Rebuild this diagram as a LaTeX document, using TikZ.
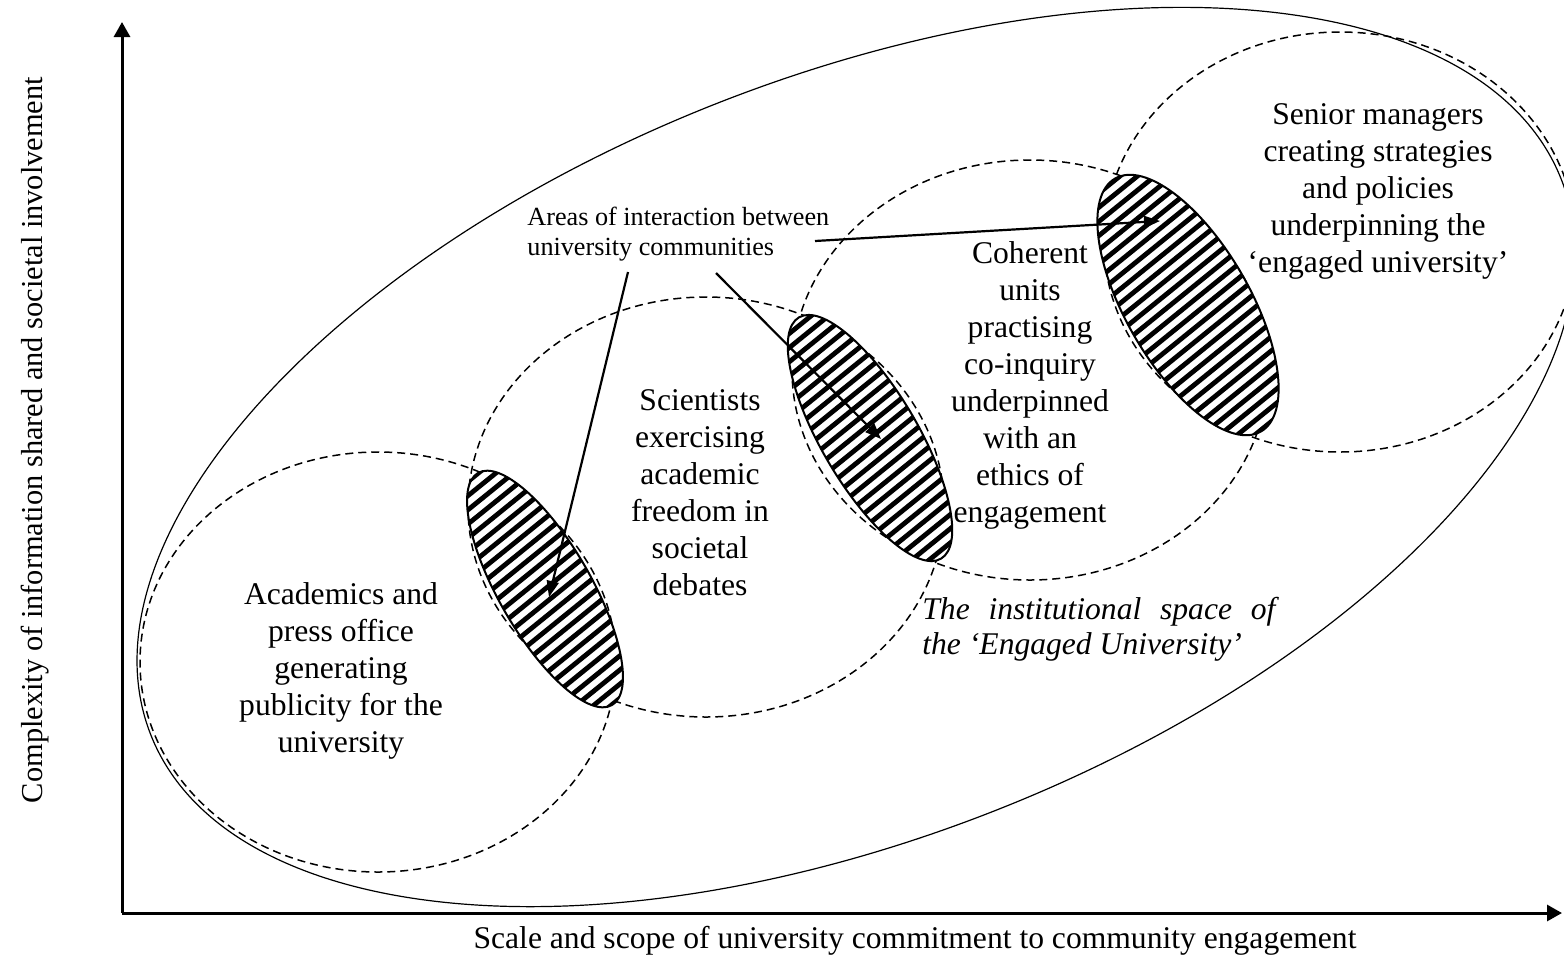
\documentclass[tikz,border=0pt]{standalone}
\usepackage{fontspec}
\setmainfont{Liberation Serif}
\usetikzlibrary{arrows.meta,calc}
\newcommand\hatchell[5]{%
  \fill[white, rotate around={#5:(#1,#2)}] (#1,#2) ellipse [x radius=#3, y radius=#4];
  \begin{scope}
    \clip[rotate around={#5:(#1,#2)}] (#1,#2) ellipse [x radius=#3, y radius=#4];
    \begin{scope}[shift={(#1,#2)}, rotate=39]
      \foreach \k in {-18,...,18} \draw[hatchline] (-220,\k*11) -- (220,\k*11);
    \end{scope}
  \end{scope}
  \draw[rim, rotate around={#5:(#1,#2)}] (#1,#2) ellipse [x radius=#3, y radius=#4];
}
\begin{document}
\begin{tikzpicture}[x=0.5pt,y=0.5pt,
  outer/.style={line width=0.6pt},
  dashedell/.style={line width=0.75pt, dash pattern=on 4pt off 2.5pt},
  axis/.style={line width=1.5pt,-{Triangle[length=7.5pt,width=8pt]}},
  pointer/.style={line width=1.1pt,-{Triangle[length=8pt,width=6pt]}},
  hatchline/.style={line width=2.4pt},
  rim/.style={line width=1pt},
  lbl/.style={font=\fontsize{15.8}{18.5}\selectfont, align=center, inner sep=0pt},
  small/.style={font=\fontsize{13.1}{15}\selectfont, align=left, inner sep=0pt},
]
\useasboundingbox (0,0) rectangle (1564,-954);

% outer institutional space
\draw[outer, rotate around={21.5:(856,-457)}] (856,-457) ellipse [x radius=758, y radius=380];

% community ellipses
\draw[dashedell] (378,-662) ellipse [x radius=238, y radius=210];
\draw[dashedell] (706,-507) ellipse [x radius=238, y radius=210];
\draw[dashedell] (1030,-370) ellipse [x radius=238, y radius=210];
\draw[dashedell] (1340,-242) ellipse [x radius=236, y radius=210];

% areas of interaction
\hatchell{545}{-589}{134}{46}{-60}
\hatchell{870}{-438}{140}{48}{-59.5}
\hatchell{1188}{-305}{146}{62}{-60}

% texts
\node[lbl] (acad) at (341,-671) {Academics and\\press office\\generating\\publicity for the\\university};
\node[lbl] (sci) at (700,-493) {Scientists\\exercising\\academic\\freedom in\\societal\\debates};
\node[lbl] (coh) at (1030,-385) {Coherent\\units\\practising\\co-inquiry\\underpinned\\with an\\ethics of\\engagement};
\node[lbl] (sen) at (1378,-191) {Senior managers\\creating strategies\\and policies\\underpinning the\\‘engaged university’};
\node[small, anchor=north west] (areas) at (527,-207) {Areas of interaction between\\university communities};
\node[lbl, align=left, anchor=north west, font=\fontsize{15.8}{17.5}\selectfont\itshape] (inst) at (922,-597) {\makebox[176.5pt][s]{The institutional space of}\\the ‘Engaged University’};

% axes
\coordinate (o) at (122,-913);
\coordinate (ytip) at (122,-22);
\coordinate (xtip) at (1562,-913);
\draw[axis] (o) -- (ytip);
\draw[axis] (o) -- (xtip);
\node[lbl, anchor=base] (xl) at (915,-948) {Scale and scope of university commitment to community engagement};
\node[lbl, rotate=90, anchor=base, font=\fontsize{15.2}{18}\selectfont] (yl) at (42,-440) {Complexity of information shared and societal involvement};

% pointers
\coordinate (s1) at (628,-272);
\coordinate (s2) at (716,-273);
\coordinate (s3) at (815,-241);
\coordinate (t1) at (549,-597);
\coordinate (t2) at (881,-439);
\coordinate (t3) at (1160,-221);
\draw[pointer] (s1) -- (t1);
\draw[pointer] (s2) -- (t2);
\draw[pointer] (s3) -- (t3);
\end{tikzpicture}
\end{document}
